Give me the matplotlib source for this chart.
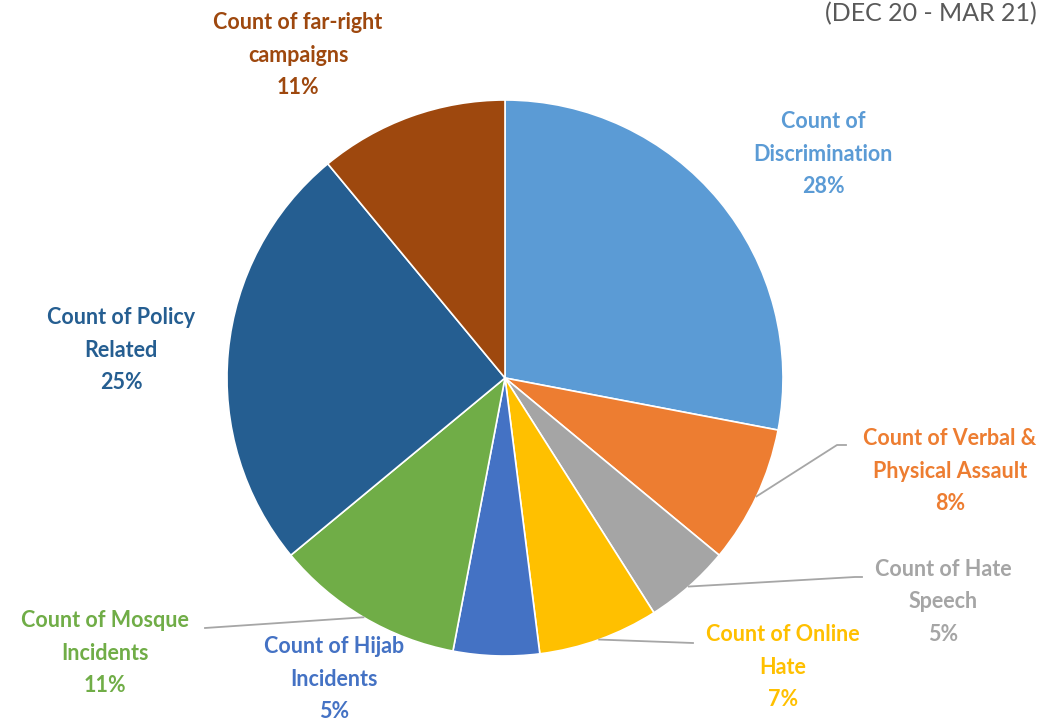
import numpy as np
import matplotlib.pyplot as plt

labels = ["Count of\nDiscrimination", "Count of Verbal &\nPhysical Assault",
          "Count of Hate\nSpeech", "Count of Online\nHate", "Count of Hijab\nIncidents",
          "Count of Mosque\nIncidents", "Count of Policy\nRelated", "Count of far-right\ncampaigns"]
shares = [28, 8, 5, 7, 5, 11, 25, 11]
colors = ["#5B9BD5", "#ED7D31", "#A5A5A5", "#FFC000", "#4472C4", "#70AD47", "#255E91", "#9E480E"]

W, H = 1055, 725
CX, CY, R = 505, 378, 278


def px(x, y):
    """pixel position (top-left origin) -> data coords with pie radius 1"""
    return (x - CX) / R, (CY - y) / R


# label centres (pixels) and optional leader line elbow/end
label_pos = [(823, 154), (950, 471), (943, 602), (783, 667),
             (334, 679), (105, 653), (121, 350), (298, 55)]
leaders = {1: [(837, 445), (846, 445)],
           2: [(855, 577), (862, 577)],
           3: [(693, 643)],
           5: [(205, 628)]}

plt.rcParams["font.family"] = ["Lato", "DejaVu Sans"]
fig = plt.figure(figsize=(W / 100, H / 100), dpi=100)
ax = fig.add_axes([0, 0, 1, 1])
wedges, _ = ax.pie(shares, colors=colors, startangle=90, counterclock=False, radius=1,
                   wedgeprops=dict(edgecolor="white", linewidth=1.2))
ax.set_xlim(-CX / R, (W - CX) / R)
ax.set_ylim(-(H - CY) / R, CY / R)
ax.set_aspect("equal")
ax.axis("off")

for i, (w, lab, val) in enumerate(zip(wedges, labels, shares)):
    x, y = px(*label_pos[i])
    ax.text(x, y, f"{lab}\n{val}%", ha="center", va="center", fontsize=15.5,
            fontweight="bold", color=colors[i], linespacing=1.68)
    if i in leaders:
        mid = np.deg2rad((w.theta1 + w.theta2) / 2)
        pts = [(np.cos(mid), np.sin(mid))] + [px(*p) for p in leaders[i]]
        ax.plot([p[0] for p in pts], [p[1] for p in pts], color="#A6A6A6", lw=1.3)

fig.text(1037 / W, 1 - 21 / H, "(DEC 20 - MAR 21)", ha="right", va="baseline",
         fontsize=18, color="#595959")

fig.savefig("out.png", dpi=100)
